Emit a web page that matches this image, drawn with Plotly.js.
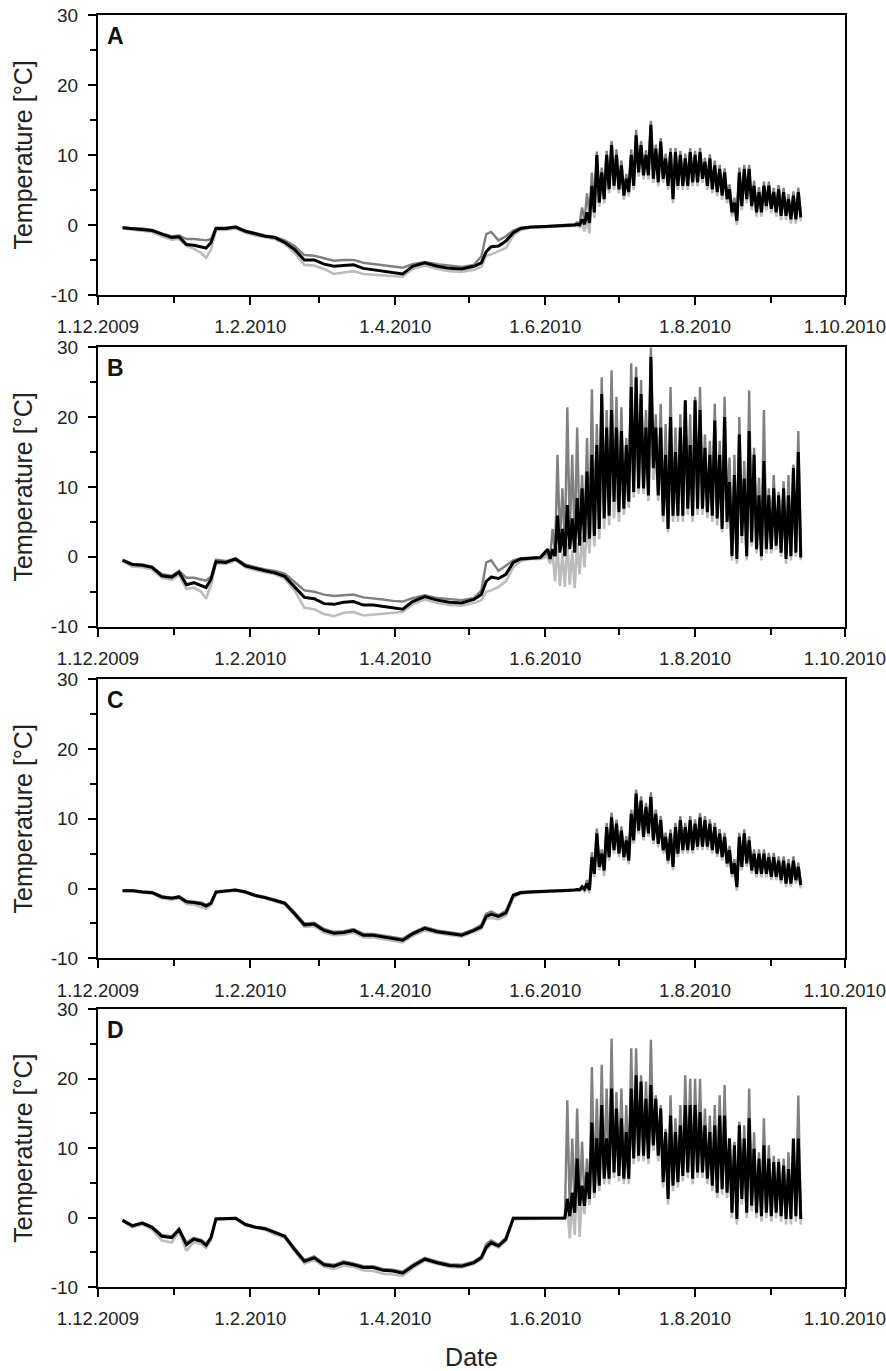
<!DOCTYPE html>
<html>
<head>
<meta charset="utf-8">
<script src="https://cdn.plot.ly/plotly-3.0.1.min.js"></script>
<style>html,body{margin:0;padding:0;background:#fff;}#chart{width:886px;height:1371px;}</style>
</head>
<body>
<div id="chart"></div>
<script>
// ---------- sampling dates ----------
const winterDates = ['2009-12-11','2009-12-15','2009-12-19','2009-12-23','2009-12-27','2009-12-31',
 '2010-01-03','2010-01-06','2010-01-09','2010-01-12','2010-01-14','2010-01-16','2010-01-18','2010-01-22','2010-01-26','2010-01-30',
 '2010-02-03','2010-02-07','2010-02-11','2010-02-15','2010-02-19','2010-02-23','2010-02-27',
 '2010-03-03','2010-03-07','2010-03-11','2010-03-15','2010-03-19','2010-03-23','2010-03-27','2010-03-31',
 '2010-04-04','2010-04-08','2010-04-13','2010-04-18','2010-04-23','2010-04-28',
 '2010-05-03','2010-05-06','2010-05-08','2010-05-10','2010-05-13','2010-05-16','2010-05-19','2010-05-22','2010-05-26','2010-05-30'];
const summerDates = ['2010-06-02','2010-06-04','2010-06-06','2010-06-08','2010-06-10','2010-06-12','2010-06-14','2010-06-16','2010-06-18','2010-06-20','2010-06-22','2010-06-24','2010-06-26','2010-06-28','2010-06-30',
 '2010-07-02','2010-07-04','2010-07-06','2010-07-08','2010-07-10','2010-07-12','2010-07-14','2010-07-16','2010-07-18','2010-07-20','2010-07-22','2010-07-24','2010-07-26','2010-07-28','2010-07-30',
 '2010-08-01','2010-08-03','2010-08-05','2010-08-07','2010-08-09','2010-08-11','2010-08-13','2010-08-15','2010-08-17','2010-08-19','2010-08-21','2010-08-23','2010-08-25','2010-08-27','2010-08-29','2010-08-31',
 '2010-09-02','2010-09-04','2010-09-06','2010-09-08','2010-09-10','2010-09-12'];

// ---------- ticks ----------
const xTickVals = ['2009-12-01','2010-02-01','2010-04-01','2010-06-01','2010-08-01','2010-10-01'];
const xTickText = ['1.12.2009','1.2.2010','1.4.2010','1.6.2010','1.8.2010','1.10.2010'];
const yTickVals = [-10,0,10,20,30];
const yTickText = ['-10','0','10','20','30'];
const panelLabels = ['A','B','C','D'];

// ---------- panel A ----------
const A_light_winter = [-0.5,-0.7,-0.8,-1.0,-1.6,-2.1, -2.0,-3.0,-3.4,-4.0,-4.7,-3.5,-0.7,-0.7,-0.5,-1.1, -1.5,-1.8,-2.0,-2.7,-4.0,-5.7,-5.8, -6.3,-7.0,-6.8,-6.6,-7.0,-7.1,-7.2,-7.3, -7.4,-6.3,-5.8,-6.3,-6.6,-6.7, -6.4,-6.0,-4.4,-4.2,-3.8,-3.3,-1.5,-0.7,-0.4,-0.35];
const A_dark_winter = [-0.3,-0.5,-0.5,-0.7,-1.2,-1.6, -1.5,-2.0,-2.0,-2.1,-2.2,-2.0,-0.4,-0.4,-0.2,-0.8, -1.2,-1.5,-1.7,-2.2,-3.0,-4.3,-4.4, -4.8,-5.1,-5.0,-5.0,-5.4,-5.6,-5.8,-6.0, -6.1,-5.6,-5.3,-5.6,-5.8,-6.0, -5.7,-4.5,-1.3,-1.0,-2.2,-1.6,-0.8,-0.4,-0.3,-0.2];
const A_black_winter = [-0.4,-0.5,-0.6,-0.8,-1.3,-1.8, -1.7,-2.8,-2.9,-3.1,-3.3,-2.5,-0.5,-0.5,-0.3,-0.9, -1.3,-1.6,-1.8,-2.5,-3.5,-5.0,-5.0, -5.6,-5.9,-5.8,-5.7,-6.2,-6.4,-6.6,-6.8, -7.0,-5.9,-5.4,-5.9,-6.2,-6.3, -5.9,-5.4,-3.8,-3.1,-3.0,-2.3,-1.1,-0.5,-0.3,-0.25];
const A_light_hi = [-0.3,-0.25,-0.2,-0.2,-0.15,-0.1,-0.1,0.2,0.8,4.5,9.5,7,9.5,10.8,9.5,8,6.2,9.5,12.2,10.8,9.5,13.6,10.3,11.3,9,9.8,9.8,9.5,9,9.8,9.5,9.8,8.5,9,8,7.5,7,4.6,2.8,7,7.5,7.5,5.1,4.3,5.1,5.1,4.3,4.6,4.3,3.3,3.8,4.2];
const A_light_lo = [-0.3,-0.25,-0.2,-0.2,-0.15,-0.1,-0.3,-0.9,-1.2,1.0,2.6,3.1,4.5,5,4.5,3.6,4.1,5,6.9,6.5,6.5,6,5.5,6,5,3.1,5,5,5,5.5,5.5,6,5,4.5,4.1,3.6,3.1,1.2,0,2.1,3.1,2.1,1.2,1.2,2.1,1.7,1.2,0.7,0.7,0.2,0.2,0.5];
const A_dark_hi = [-0.1,-0.05,0,0,0.05,0.1,0.4,2.5,4.5,7.5,10.5,8.2,10.6,12,10.8,9.2,7.3,10.8,13.6,12,10.7,14.9,11.5,12.4,10.2,11,11,10.6,10.2,11,10.6,11,9.6,10.1,9.2,8.6,8.1,5.8,3.9,8.2,8.6,8.6,6.3,5.4,6.2,6.2,5.3,5.7,5.3,4.4,4.8,5.3];
const A_dark_lo = [-0.1,-0.05,0,0,0.05,0.1,0.2,0.6,1.5,2.5,3.8,4.2,5.5,6,5.5,4.6,5.1,6,7.9,7.5,7.5,7,6.5,7,6,4.2,6,6,6,6.5,6.5,7,6,5.5,5.1,4.6,4.1,2.2,1,3.1,4.1,3.1,2.2,2.2,3.1,2.7,2.2,1.7,1.7,1.2,1.2,1.5];
const A_black_hi = [-0.2,-0.15,-0.1,-0.1,-0.05,0,0.1,0.8,1.8,5.6,10,7.5,10,11.4,10,8.5,6.6,10,12.8,11.4,10,14.3,10.9,11.9,9.5,10.4,10.4,10,9.5,10.4,10,10.4,9,9.5,8.5,8,7.5,5.1,3.2,7.5,8,8,5.6,4.7,5.6,5.6,4.7,5.1,4.7,3.7,4.2,4.7];
const A_black_lo = [-0.2,-0.15,-0.1,-0.1,-0.05,0,0,0.1,0.3,1.8,3.2,3.7,5.1,5.6,5.1,4.2,4.7,5.6,7.5,7.1,7.1,6.6,6.1,6.6,5.6,3.7,5.6,5.6,5.6,6.1,6.1,6.6,5.6,5.1,4.7,4.2,3.7,1.8,0.6,2.7,3.7,2.7,1.8,1.8,2.7,2.3,1.8,1.3,1.3,0.8,0.8,1.1];

// ---------- panel B ----------
const B_light_winter = [-0.6,-1.4,-1.5,-1.8,-3.0,-3.3, -2.6,-4.6,-4.4,-5.0,-6.0,-4.0,-0.9,-1.0,-0.5,-1.5, -1.9,-2.2,-2.5,-3.1,-4.8,-7.3,-7.5, -8.2,-8.5,-8.0,-7.9,-8.4,-8.3,-8.2,-8.0, -7.9,-6.8,-6.1,-6.6,-6.9,-7.0, -6.6,-6.2,-5.0,-4.8,-4.3,-3.5,-1.5,-0.6,-0.3,-0.3];
const B_dark_winter = [-0.4,-1.0,-1.1,-1.4,-2.5,-2.7, -2.0,-3.0,-3.0,-3.2,-3.4,-2.8,-0.4,-0.6,-0.2,-1.1, -1.5,-1.8,-2.0,-2.4,-3.6,-4.8,-5.0, -5.4,-5.6,-5.5,-5.4,-5.8,-5.9,-6.1,-6.3, -6.4,-5.9,-5.5,-5.9,-6.1,-6.2, -5.9,-4.8,-0.8,-0.5,-2.0,-1.3,-0.5,-0.2,-0.1,-0.05];
const B_black_winter = [-0.5,-1.1,-1.2,-1.5,-2.7,-2.9, -2.2,-4.0,-3.7,-4.1,-4.4,-3.2,-0.7,-0.8,-0.3,-1.3, -1.7,-2.0,-2.3,-2.8,-4.3,-5.8,-6.0, -6.7,-6.8,-6.5,-6.4,-6.9,-6.9,-7.1,-7.3, -7.5,-6.4,-5.7,-6.2,-6.5,-6.6, -6.1,-5.4,-3.5,-2.9,-3.1,-2.5,-0.8,-0.3,-0.15,-0.1];
const B_light_hi = [0,0.5,1.5,0.5,2,1,2,3,5,8,10,16,14,15,12,14,12,20,22,20,15,24,15,15,12,16,12,15,18,13,18,17,13,12,16,12,16,9,9,14,9,15,12,7,11,7,8,7,8,7,10,12];
const B_light_lo = [-1,-3.5,-4.2,-4.3,-4,-4.5,-2.5,-1.5,0.5,1.5,2.5,4,4.5,5.5,5,6,7,8.5,9,9,8,11,8,5,3.5,5,5,5,6,5,6,6,5.5,5,4.5,3.5,4,-0.5,-1,2,-0.5,1.5,0.5,-0.5,0.5,0.5,1,0,-1,-0.5,0,-0.5];
const B_dark_hi = [0.5,4.0,14.6,9.8,21.4,14.6,18.5,11.7,17,24,19,25.7,21,26.7,22.9,21.4,17,27.7,27.2,25.3,21,30,20.4,21.9,19,24.3,18.5,20.4,22.4,20.4,22.9,24.3,17.5,16.6,21.9,16.6,22.9,14.2,14.6,20,13.7,23.8,15.6,11.3,21,9.8,11.7,9.3,10.8,11.7,13.2,18];
const B_dark_lo = [0,0.5,2,1.5,3,2,3,3,3.5,4,4.5,6,6.5,8.5,7,7.5,8.5,10,10.5,10.5,9.5,13.5,9.5,6.5,4.5,6.5,6.5,6.5,7.5,6.5,7.5,7.5,7,6.5,6,4.5,5.5,0.5,0,3.5,0.5,2.5,1.5,0.5,1.5,1.5,2,1,0,0.5,1,0.3];
const B_black_hi = [1.1,1.1,5.9,4,7.4,5.5,8.4,9.8,12.2,14.6,16,23.3,18.5,21,18.5,18,16,24.3,25.7,23.3,18.5,28.6,18.5,18.5,14.6,20,15,18.5,22.4,16,22.4,21,15.6,14.6,19.5,14.6,20,10.7,11.7,17.5,11.2,18,14.6,8.8,13.7,8.8,9.8,8.8,9.8,8.8,12.7,15];
const B_black_lo = [-0.3,0.1,0.6,0.1,1.1,0.6,1.6,2.1,2.6,3.0,4.0,5.5,5.9,7.9,6.4,6.9,7.9,9.3,9.8,9.8,8.8,12.7,8.8,5.9,4.0,5.9,5.9,5.9,6.9,5.9,6.9,6.9,6.4,5.9,5.5,4.0,5.0,0.1,-0.3,3.0,0.1,2.1,1.1,0.1,1.1,1.1,1.6,0.6,-0.3,0.1,0.6,-0.1];

// ---------- panel C ----------
const C_light_winter = [-0.35,-0.4,-0.6,-0.7,-1.4,-1.6, -1.4,-2.2,-2.3,-2.6,-2.9,-2.4,-0.6,-0.4,-0.3,-0.6, -1.1,-1.4,-1.8,-2.3,-3.8,-5.5,-5.4, -6.3,-6.7,-6.6,-6.3,-7.0,-7.0,-7.2,-7.4, -7.7,-6.8,-6.0,-6.4,-6.7,-6.9, -6.2,-5.8,-4.3,-4.2,-4.4,-3.9,-1.3,-0.7,-0.6,-0.5];
const C_dark_winter = [-0.25,-0.25,-0.4,-0.5,-1.1,-1.3, -1.1,-1.8,-1.9,-2.0,-2.3,-2.0,-0.4,-0.25,-0.15,-0.45, -0.9,-1.2,-1.6,-2.0,-3.4,-5.0,-4.9, -5.8,-6.2,-6.1,-5.8,-6.5,-6.5,-6.7,-6.9, -7.2,-6.3,-5.5,-6.0,-6.2,-6.5, -5.8,-5.2,-3.6,-3.3,-3.8,-3.2,-0.8,-0.5,-0.4,-0.35];
const C_black_winter = [-0.3,-0.3,-0.5,-0.6,-1.2,-1.4, -1.2,-1.9,-2.0,-2.2,-2.5,-2.1,-0.5,-0.3,-0.2,-0.5, -1.0,-1.3,-1.7,-2.1,-3.6,-5.2,-5.1, -6.0,-6.4,-6.3,-6.0,-6.7,-6.7,-6.9,-7.1, -7.4,-6.5,-5.7,-6.2,-6.4,-6.7, -6.0,-5.5,-4.0,-3.7,-4.0,-3.5,-1.0,-0.6,-0.5,-0.4];
const C_light_hi = [-0.45,-0.4,-0.35,-0.35,-0.3,-0.25,-0.2,0,0.3,3.8,7.3,4.5,8.2,9.6,8.7,7.7,6.3,10.1,13,12,11.1,12.5,10.1,9.2,6.8,7.3,8.2,9.2,8.2,9.2,8.7,9.6,9.2,8.7,8.2,7.3,6.8,4.9,3,6.8,7.3,6.3,4.4,4.4,4.4,3.9,3.9,3.4,3.4,3,3.4,2.5];
const C_light_lo = [-0.45,-0.4,-0.35,-0.35,-0.3,-0.25,-0.3,-0.4,-0.6,1.6,2.6,1.8,4,5,4.5,4,3.5,6.4,7.8,6.9,7.4,6.4,5.9,5,3.5,2.6,4.5,5,5,5,5.5,5.5,5.5,5,4.5,4,3.1,1.6,-0.3,2.6,3.1,2.1,1.6,1.6,1.6,1.2,1.2,0.7,0.2,0.2,0.7,0];
const C_dark_hi = [-0.35,-0.3,-0.25,-0.25,-0.2,-0.15,-0.1,0.4,1.2,5.2,8.6,5.6,9.4,10.9,9.9,8.9,7.5,11.3,14.2,13.2,12.3,13.8,11.3,10.4,8,8.5,9.4,10.4,9.4,10.4,9.9,10.8,10.4,9.9,9.4,8.5,8,6.1,4.2,8,8.5,7.5,5.6,5.6,5.6,5.1,5.1,4.6,4.6,4.2,4.6,3.7];
const C_dark_lo = [-0.35,-0.3,-0.25,-0.25,-0.2,-0.15,-0.15,0,0,2.4,3.4,2.9,4.8,5.8,5.3,4.8,4.3,7.2,8.6,7.7,8.2,7.2,6.7,5.8,4.3,3.4,5.3,5.8,5.8,5.8,6.3,6.3,6.3,5.8,5.3,4.8,3.9,2.4,0.5,3.4,3.9,2.9,2.4,2.4,2.4,2,2,1.5,1,1,1.5,0.8];
const C_black_hi = [-0.4,-0.35,-0.3,-0.3,-0.25,-0.2,-0.15,0.2,0.7,4.5,7.9,5,8.8,10.2,9.3,8.3,6.9,10.7,13.6,12.6,11.7,13.1,10.7,9.8,7.4,7.9,8.8,9.8,8.8,9.8,9.3,10.2,9.8,9.3,8.8,7.9,7.4,5.5,3.6,7.4,7.9,6.9,5,5,5,4.5,4.5,4,4,3.6,4,3.1];
const C_black_lo = [-0.4,-0.35,-0.3,-0.3,-0.25,-0.2,-0.2,-0.1,-0.2,2.1,3.1,2.6,4.5,5.5,5,4.5,4,6.9,8.3,7.4,7.9,6.9,6.4,5.5,4,3.1,5,5.5,5.5,5.5,6,6,6,5.5,5,4.5,3.6,2.1,0.2,3.1,3.6,2.6,2.1,2.1,2.1,1.7,1.7,1.2,0.7,0.7,1.2,0.5];

// ---------- panel D ----------
const D_light_winter = [-0.5,-1.4,-1.0,-1.7,-3.3,-3.6, -2.0,-4.8,-3.5,-3.8,-4.4,-3.2,-0.3,-0.2,-0.2,-1.1, -1.5,-1.8,-2.4,-2.9,-4.8,-6.6,-6.1, -7.1,-7.4,-6.9,-7.1,-7.6,-7.7,-8.1,-8.2, -8.4,-7.3,-6.2,-6.7,-7.1,-7.2, -6.7,-6.0,-4.6,-3.9,-4.3,-3.4,-0.3,-0.2,-0.2,-0.25];
const D_dark_winter = [-0.35,-1.1,-0.7,-1.3,-2.5,-2.7, -1.6,-3.6,-2.9,-3.2,-3.8,-2.7,-0.15,-0.05,-0.05,-0.9, -1.3,-1.5,-2.1,-2.6,-4.4,-6.1,-5.6, -6.6,-6.8,-6.3,-6.6,-7.0,-7.0,-7.4,-7.5, -7.8,-6.8,-5.8,-6.3,-6.7,-6.8, -6.3,-5.6,-3.8,-3.3,-3.9,-2.9,-0.05,-0.05,-0.05,-0.1];
const D_black_winter = [-0.4,-1.2,-0.8,-1.4,-2.7,-2.9, -1.7,-3.9,-3.1,-3.4,-4.0,-2.9,-0.2,-0.1,-0.1,-1.0, -1.4,-1.6,-2.2,-2.7,-4.6,-6.3,-5.8, -6.8,-7.0,-6.5,-6.8,-7.2,-7.2,-7.6,-7.7, -8.0,-7.0,-6.0,-6.5,-6.9,-7.0, -6.5,-5.8,-4.3,-3.6,-4.1,-3.1,-0.1,-0.1,-0.1,-0.15];
const D_light_hi = [-0.2,-0.15,-0.15,-0.1,1.5,2.5,6,3.5,5.5,11,10,14,10,16,13.5,12.5,11,16.5,18,17,15,17,15,14,11,13,11,12,14.5,14.5,14.5,13.5,12,11,12,13,13,10,9.5,12,10,13,9,7.5,9.5,7.5,7,7,6.5,6,10,10];
const D_light_lo = [-0.2,-0.15,-0.15,-0.1,-3,-2.5,-2.8,0.5,1.8,2.8,3.8,4.8,4.8,5.7,5.2,4.8,4.8,7.7,8.1,8.1,7.7,9.6,8.1,4.3,1.9,3.8,4.3,5.2,5.7,4.8,5.7,5.7,4.8,3.8,2.8,3.3,2.8,-0.1,-1,1.9,-0.1,0.9,-0.1,-0.6,-0.1,-0.6,-0.1,-0.6,-1,-1,-0.6,-1];
const D_dark_hi = [-0.1,-0.05,-0.05,0,16.9,11.4,15.7,10.9,8.5,21.7,17.1,22,18.6,25.8,18.1,18.6,16.2,24.4,24.4,20.5,19.6,25.6,17.6,16.2,12.8,17.6,14.3,16.2,20.5,20,20,20,15.7,14.7,16.2,17.6,19.1,11.4,10.9,13.8,13.3,18.6,12.3,9.4,14.3,10.4,8.9,8.5,8.5,9.4,9.9,17.6];
const D_dark_lo = [-0.1,-0.05,-0.05,0,0.5,1.2,2.5,2.2,3.2,4.2,5.2,6.2,6.2,7,6.5,6.2,6.2,9,9.4,9.4,9,10.9,9.4,5.6,3.2,5.1,5.6,6.5,7,6.1,7,7,6.1,5.1,4.1,4.6,4.1,1.2,0.3,3.2,1.2,2.2,1.2,0.7,1.2,0.7,1.2,0.7,0.3,0.3,0.7,0.2];
const D_black_hi = [-0.15,-0.1,-0.1,-0.05,2.7,3.6,8.5,4.6,6.5,13.7,11.4,16.2,11.4,18.6,15.7,14.3,12.3,18.6,20.5,19.6,17.1,19.1,17.1,15.7,12.3,14.7,12.3,13.3,16.2,16.2,16.2,15.2,13.3,12.3,13.3,14.7,14.7,11.4,10.4,13.3,11.4,14.3,9.9,8.5,10.4,8.5,8,8,7.5,7,11.4,11.4];
const D_black_lo = [-0.15,-0.1,-0.1,-0.05,0.2,0.7,1.7,1.7,2.7,3.6,4.6,5.6,5.6,6.5,6,5.6,5.6,8.5,8.9,8.9,8.5,10.4,8.9,5.1,2.7,4.6,5.1,6,6.5,5.6,6.5,6.5,5.6,4.6,3.6,4.1,3.6,0.7,-0.2,2.7,0.7,1.7,0.7,0.2,0.7,0.2,0.7,0.2,-0.2,-0.2,0.2,-0.2];

// ---------- build ----------
function nextDay(d) {
  return new Date(Date.parse(d + 'T00:00:00Z') + 86400000).toISOString().slice(0, 10);
}
function buildSeries(winter, hi, lo) {
  const x = [], y = [];
  winterDates.forEach((d, i) => { x.push(d); y.push(winter[i]); });
  summerDates.forEach((d, i) => { x.push(d); y.push(hi[i]); x.push(nextDay(d)); y.push(lo[i]); });
  return {x, y};
}
const panels = [
  {light:[A_light_winter,A_light_hi,A_light_lo], dark:[A_dark_winter,A_dark_hi,A_dark_lo], black:[A_black_winter,A_black_hi,A_black_lo]},
  {light:[B_light_winter,B_light_hi,B_light_lo], dark:[B_dark_winter,B_dark_hi,B_dark_lo], black:[B_black_winter,B_black_hi,B_black_lo]},
  {light:[C_light_winter,C_light_hi,C_light_lo], dark:[C_dark_winter,C_dark_hi,C_dark_lo], black:[C_black_winter,C_black_hi,C_black_lo]},
  {light:[D_light_winter,D_light_hi,D_light_lo], dark:[D_dark_winter,D_dark_hi,D_dark_lo], black:[D_black_winter,D_black_hi,D_black_lo]}
];
const styles = {light:{color:'#bcbcbc', width:2.6}, dark:{color:'#808080', width:2.4}, black:{color:'#000000', width:3}};
const traces = [];
panels.forEach((p, k) => {
  const sx = k === 0 ? 'x' : 'x' + (k + 1);
  const sy = k === 0 ? 'y' : 'y' + (k + 1);
  ['light','dark','black'].forEach(s => {
    const ser = buildSeries(p[s][0], p[s][1], p[s][2]);
    traces.push({type:'scatter', mode:'lines', x:ser.x, y:ser.y, xaxis:sx, yaxis:sy,
      line:{color:styles[s].color, width:styles[s].width, shape:'linear'}, showlegend:false, hoverinfo:'skip'});
  });
});

const FONT = 'Liberation Sans, Arial, Helvetica, sans-serif';
const domains = [[0.7799,1.0],[0.5191,0.7388],[0.2584,0.4778],[0,0.2183]];
const layout = {
  width:886, height:1371,
  margin:{l:98, r:41, t:15, b:84},
  paper_bgcolor:'#fff', plot_bgcolor:'#fff',
  font:{family:FONT, color:'#222'},
  showlegend:false,
  annotations:[]
};
domains.forEach((dom, k) => {
  const xn = k === 0 ? 'xaxis' : 'xaxis' + (k + 1);
  const yn = k === 0 ? 'yaxis' : 'yaxis' + (k + 1);
  const yref = k === 0 ? 'y' : 'y' + (k + 1);
  const xref = k === 0 ? 'x' : 'x' + (k + 1);
  layout[xn] = {
    type:'date', range:['2009-12-01','2010-10-01'], anchor:yref, domain:[0,1],
    tickmode:'array', tickvals:xTickVals, ticktext:xTickText,
    ticks:'outside', ticklen:8, tickwidth:2, tickcolor:'#000', ticklabelstandoff:6,
    ticklabeloverflow:'allow',
    showline:true, linewidth:2, linecolor:'#000', mirror:true,
    showgrid:false, zeroline:false,
    tickfont:{family:FONT, size:18.5, color:'#222'},
    minor:{dtick:'M1', tick0:'2009-12-01', ticks:'outside', ticklen:6, tickwidth:2, tickcolor:'#000', showgrid:false},
    title: k === 3 ? {text:'Date', font:{family:FONT, size:25, color:'#222'}, standoff:20} : {text:''}
  };
  layout[yn] = {
    range:[-10,30], anchor:xref, domain:dom,
    tickmode:'array', tickvals:yTickVals, ticktext:yTickText,
    ticks:'outside', ticklen:8, tickwidth:2, tickcolor:'#000', ticklabelstandoff:6,
    showline:true, linewidth:2, linecolor:'#000', mirror:true,
    showgrid:false, zeroline:false,
    tickfont:{family:FONT, size:19, color:'#222'},
    minor:{dtick:5, tick0:0, ticks:'outside', ticklen:6, tickwidth:2, tickcolor:'#000', showgrid:false},
    title:{text:'Temperature [°C]', font:{family:FONT, size:25, color:'#222'}, standoff:11}
  };
  layout.annotations.push({
    text:'<b>' + panelLabels[k] + '</b>', xref:xref + ' domain', yref:yref + ' domain',
    x:0.009, y:0.978, xanchor:'left', yanchor:'top', showarrow:false,
    font:{family:FONT, size:23, color:'#111'}
  });
});

Plotly.newPlot('chart', traces, layout, {staticPlot:true, displayModeBar:false});
</script>
</body>
</html>
